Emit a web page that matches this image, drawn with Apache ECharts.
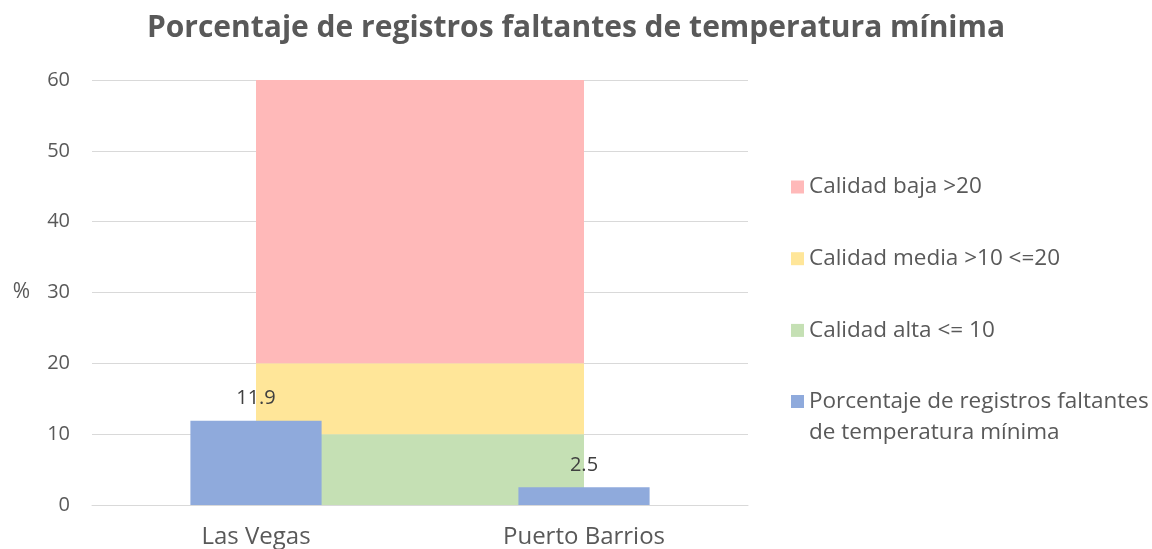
<!DOCTYPE html>
<html>
<head>
<meta charset="utf-8">
<script src="https://cdn.jsdelivr.net/npm/echarts@6/dist/echarts.min.js"></script>
<style>
  html, body { margin: 0; padding: 0; background: #fff; }
  #chart { width: 1152px; height: 549px; }
</style>
</head>
<body>
<div id="chart"></div>
<script>
// data
const categories = ['Las Vegas', 'Puerto Barrios']
const calidadAlta = [10, 10]    // 0 - 10
const calidadMedia = [10, 10]   // 10 - 20
const calidadBaja = [40, 40]    // 20 - 60
const faltantes = [11.9, 2.5]
const yTicks = { min: 0, max: 60, interval: 10 }

const FONT = '"Open Sans", "Noto Sans", sans-serif'
const GREY = '#595959'
const BAR_NAME = 'Porcentaje de registros faltantes\nde temperatura mínima'

const bandSeries = (name, data, color) => ({
  name: name,
  type: 'line',
  stack: 'bandas',
  data: data,
  symbol: 'none',
  lineStyle: { width: 0 },
  areaStyle: { color: color, opacity: 1 },
  itemStyle: { color: color },
  z: 1
})

const chart = echarts.init(document.getElementById('chart'))
chart.setOption({
  animation: false,
  textStyle: { fontFamily: FONT },
  title: {
    text: 'Porcentaje de registros faltantes de temperatura mínima',
    left: 571,
    textAlign: 'center',
    top: 8,
    textStyle: { fontFamily: FONT, fontSize: 30, fontWeight: 'bold', color: GREY }
  },
  legend: [
    {
      data: ['Calidad baja >20', 'Calidad media >10 <=20', 'Calidad alta <= 10'],
      orient: 'vertical',
      left: 791,
      top: 175,
      padding: 0,
      itemWidth: 13,
      itemHeight: 13,
      itemGap: 47.7,
      icon: 'rect',
      textStyle: { fontFamily: FONT, fontSize: 22.5, color: GREY, lineHeight: 24 }
    },
    {
      // leading blank line keeps the first text line level with the icon
      data: [BAR_NAME],
      formatter: name => '\n' + name,
      orient: 'vertical',
      left: 791,
      top: 355,
      padding: 0,
      itemWidth: 13,
      itemHeight: 13,
      icon: 'rect',
      textStyle: { fontFamily: FONT, fontSize: 22.5, color: GREY, lineHeight: 31 }
    }
  ],
  grid: { left: 92, right: 404, top: 80, bottom: 43 },
  xAxis: {
    type: 'category',
    data: categories,
    boundaryGap: true,
    axisLine: { lineStyle: { color: '#D9D9D9' } },
    axisTick: { show: false },
    axisLabel: { color: GREY, fontSize: 24, margin: 20 }
  },
  yAxis: {
    type: 'value',
    min: yTicks.min,
    max: yTicks.max,
    interval: yTicks.interval,
    name: '%',
    nameLocation: 'middle',
    nameRotate: 0,
    nameGap: 62,
    nameTextStyle: { color: GREY, fontSize: 21 },
    axisLine: { show: false },
    axisTick: { show: false },
    axisLabel: { color: GREY, fontSize: 20, margin: 22 },
    splitLine: { lineStyle: { color: '#D9D9D9' } }
  },
  series: [
    bandSeries('Calidad alta <= 10', calidadAlta, '#C5E0B4'),
    bandSeries('Calidad media >10 <=20', calidadMedia, '#FFE699'),
    bandSeries('Calidad baja >20', calidadBaja, '#FFB9B9'),
    {
      name: BAR_NAME,
      type: 'bar',
      data: faltantes,
      barWidth: '40%',
      itemStyle: { color: '#8FAADC' },
      label: {
        show: true,
        position: 'top',
        distance: 12,
        color: '#404040',
        fontSize: 20,
        fontFamily: FONT
      },
      z: 3
    }
  ]
})
</script>
</body>
</html>
